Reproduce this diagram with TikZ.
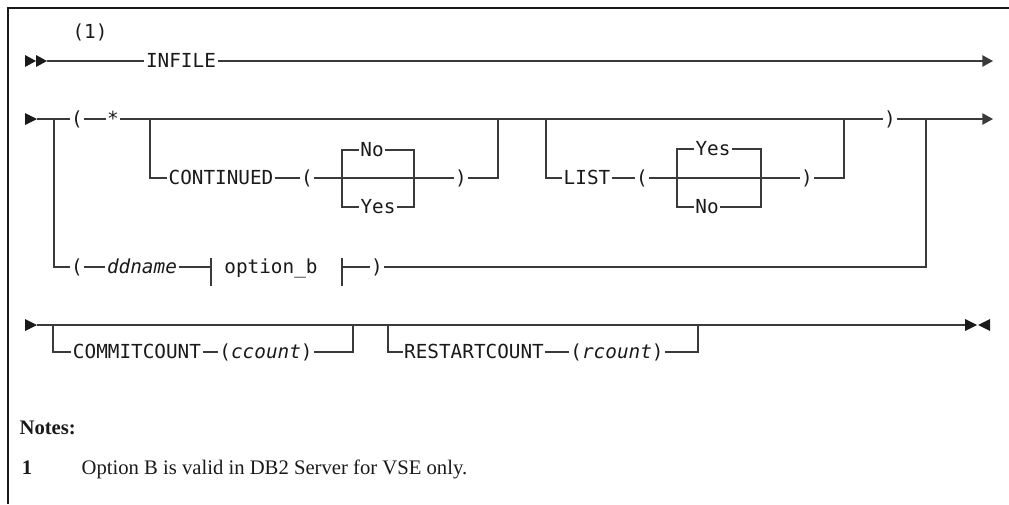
\documentclass[tikz,border=0pt]{standalone}
\usepackage{fontspec}
\setmainfont{Liberation Serif}
\setmonofont{DejaVu Sans Mono}
\usetikzlibrary{arrows.meta,calc}
\definecolor{ink}{HTML}{1A1A1A}
\definecolor{rail}{HTML}{3A3A3A}

\begin{document}
\begin{tikzpicture}[
  x=0.75pt, y=-0.75pt,
  font=\fontsize{14.5}{16}\selectfont\ttfamily, text=ink,
  every node/.style={inner xsep=1pt, inner ysep=0pt, text height=11pt, text depth=1pt},
  kw/.style={},
  var/.style={font=\fontsize{14.5}{16}\selectfont\ttfamily\itshape},
  railline/.style={draw=rail, line width=1.1pt},
  railtip/.style={-{Triangle[length=8pt, width=8.5pt]}},
  frame/.style={draw=ink, line width=1.3pt},
  note/.style={font=\fontsize{15.5}{18}\selectfont\rmfamily, text=ink},
]
\useasboundingbox (0,0) rectangle (1009,504);

% ---- frame -----------------------------------------------------------------
\draw[frame] (1009,8) -- (8,8) -- (8,504);

% ---- row 1: INFILE -----------------------------------------------------------
\fill[ink] (25,55) -- (36,61) -- (25,67) -- cycle;
\fill[ink] (36,55) -- (47,61) -- (36,67) -- cycle;
\coordinate (r1in)  at (47,61);
\coordinate (r1out) at (993,61);
\node[kw] (fnote)  at (90,32)  {(1)};
\node[kw] (infile) at (181,61) {INFILE};

\draw[railline] (r1in) -- (infile);
\draw[railline, railtip] (infile) -- (r1out);

% ---- row 2: ( * ... ) or ( ddname option_b ) --------------------------------
\fill[ink] (25,113) -- (37,119) -- (25,125) -- cycle;
\coordinate (r2in)      at (37,119);
\coordinate (r2split)   at (54,119);
\coordinate (contsplit) at (150,119);
\coordinate (contjoin)  at (498,119);
\coordinate (listsplit) at (546,119);
\coordinate (listjoin)  at (844,119);
\coordinate (ddjoin)    at (926,119);
\coordinate (r2out)     at (993,119);

\node[kw] (lp)   at (77,119)  {(};
\node[kw] (star) at (113,119) {*};
\node[kw] (rp)   at (890,119) {)};

\draw[railline] (r2in) -- (lp);
\draw[railline] (lp) -- (star);
\draw[railline] (star) -- (rp);
\draw[railline, railtip] (rp) -- (r2out);

% CONTINUED(No|Yes)
\node[kw] (cont)    at (221,178) {CONTINUED};
\node[kw] (contlp)  at (307,178) {(};
\node[kw] (contno)  at (372,150) {No};
\node[kw] (contyes) at (378,207) {Yes};
\node[kw] (contrp)  at (461,178) {)};
\coordinate (contl) at (342,178);
\coordinate (contr) at (414,178);

\draw[railline] (contsplit) |- (cont);
\draw[railline] (cont) -- (contlp);
\draw[railline] (contlp) -- (contrp);
\draw[railline] (contno) -| (contl) |- (contyes);
\draw[railline] (contno) -| (contr) |- (contyes);
\draw[railline] (contrp) -| (contjoin);

% LIST(Yes|No)
\node[kw] (list)    at (587,178) {LIST};
\node[kw] (listlp)  at (642,178) {(};
\node[kw] (listyes) at (713,149) {Yes};
\node[kw] (listno)  at (707,207) {No};
\node[kw] (listrp)  at (807,178) {)};
\coordinate (listl) at (677,178);
\coordinate (listr) at (761,178);

\draw[railline] (listsplit) |- (list);
\draw[railline] (list) -- (listlp);
\draw[railline] (listlp) -- (listrp);
\draw[railline] (listyes) -| (listl) |- (listno);
\draw[railline] (listyes) -| (listr) |- (listno);
\draw[railline] (listrp) -| (listjoin);

% ( ddname | option_b | )
\node[kw]  (ddlp)   at (77,267)  {(};
\node[var] (ddname) at (142,267) {ddname};
\node[kw]  (optb)   at (271,267) {option\_b};
\node[kw]  (ddrp)   at (377,267) {)};
\coordinate (barl) at (211,267);
\coordinate (barr) at (342,267);

\draw[railline] (r2split) |- (ddlp);
\draw[railline] (ddlp) -- (ddname);
\draw[railline] (ddname) -- (barl);
\draw[railline] ($(barl)+(0,-9)$) -- ($(barl)+(0,19)$);
\draw[railline] ($(barr)+(0,-9)$) -- ($(barr)+(0,19)$);
\draw[railline] (barr) -- (ddrp);
\draw[railline] (ddrp) -| (ddjoin);

% ---- row 3: COMMITCOUNT / RESTARTCOUNT --------------------------------------
\fill[ink] (25,319) -- (37,325) -- (25,331) -- cycle;
\coordinate (r4in)    at (37,325);
\coordinate (r4out)   at (965,325);
\coordinate (cmsplit) at (53,325);
\coordinate (cmjoin)  at (353,325);
\coordinate (rssplit) at (388,325);
\coordinate (rsjoin)  at (698,325);

\draw[railline] (r4in) -- (r4out);
\fill[ink] (965,319) -- (977,325) -- (965,331) -- cycle;
\fill[ink] (990,319) -- (978,325) -- (990,331) -- cycle;

\node[kw] (commit) at (137,352) {COMMITCOUNT};
\node[kw] (cmarg)  at (266,352) {(\textit{ccount})};

\draw[railline] (cmsplit) |- (commit);
\draw[railline] (commit) -- (cmarg);
\draw[railline] (cmarg) -| (cmjoin);

\node[kw] (restart) at (474,352) {RESTARTCOUNT};
\node[kw] (rsarg)   at (617,352) {(\textit{rcount})};

\draw[railline] (rssplit) |- (restart);
\draw[railline] (restart) -- (rsarg);
\draw[railline] (rsarg) -| (rsjoin);

% ---- notes -------------------------------------------------------------------
\node[note, anchor=west, font=\fontsize{15.5}{18}\selectfont\rmfamily\bfseries] (notes) at (18,428) {Notes:};
\node[note, font=\fontsize{15.5}{18}\selectfont\rmfamily\bfseries] (n1) at (27,468) {1};
\node[note, anchor=west] (n1text) at (80,468) {Option B is valid in DB2 Server for VSE only.};

\end{tikzpicture}
\end{document}
